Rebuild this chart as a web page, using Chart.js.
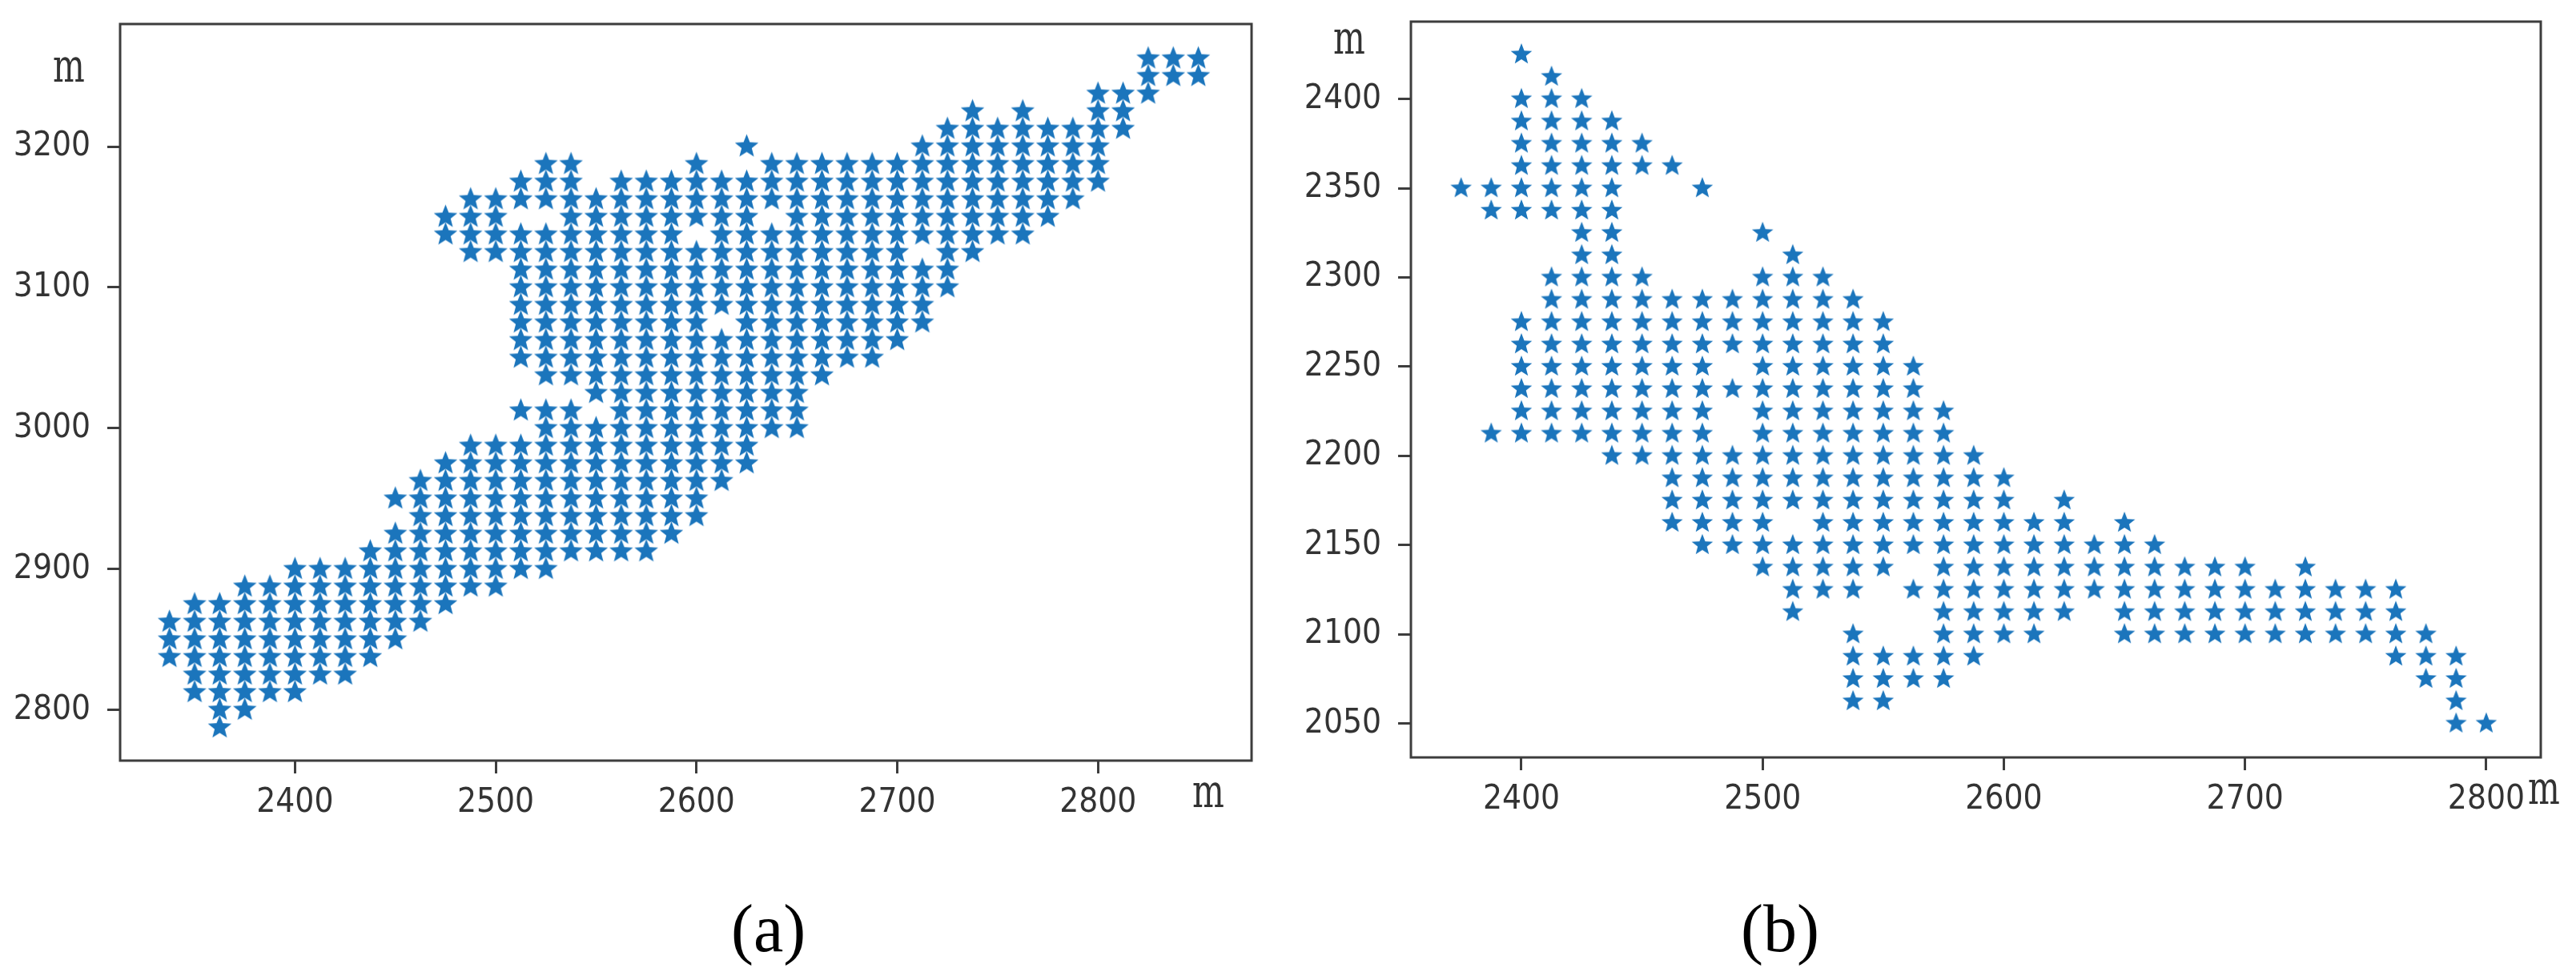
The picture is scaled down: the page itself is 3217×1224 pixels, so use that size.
<!DOCTYPE html>
<html>
<head>
<meta charset="utf-8">
<title>Scatter maps</title>
<script src="https://cdn.jsdelivr.net/npm/chart.js@4/dist/chart.umd.min.js"></script>
<style>
    html, body { margin: 0; padding: 0; background: #fff; }
    body { position: relative; width: 3217px; height: 1224px; overflow: hidden; }
    canvas { position: absolute; top: 0; }
    #chartA { left: 0; }
    #chartB { left: 1600px; }
    .unit { position: absolute; font: 42px "DejaVu Serif"; line-height: 1; color: #333; transform: scaleY(1.4); transform-origin: top left; }
    .caption { position: absolute; font: 84px "Liberation Serif"; line-height: 1; color: #000; }
</style>
</head>
<body>
<canvas id="chartA" width="1600" height="1110"></canvas>
<canvas id="chartB" width="1617" height="1110"></canvas>
<div class="unit" style="left:66px;top:53px">m</div>
<div class="unit" style="left:1489px;top:959px">m</div>
<div class="unit" style="left:1665px;top:18px">m</div>
<div class="unit" style="left:3157px;top:955px">m</div>
<div class="caption" style="left:913px;top:1118px">(a)</div>
<div class="caption" style="left:2174px;top:1118px">(b)</div>
<script>
// panel (a)
var aColumns = [2337.5, 2350, 2362.5, 2375, 2387.5, 2400, 2412.5, 2425, 2437.5, 2450, 2462.5, 2475, 2487.5, 2500, 2512.5, 2525, 2537.5, 2550, 2562.5, 2575, 2587.5, 2600, 2612.5, 2625, 2637.5, 2650, 2662.5, 2675, 2687.5, 2700, 2712.5, 2725, 2737.5, 2750, 2762.5, 2775, 2787.5, 2800, 2812.5, 2825, 2837.5, 2850];
var aRows = [
    [2862.5, 2850, 2837.5],
    [2875, 2862.5, 2850, 2837.5, 2825, 2812.5],
    [2875, 2862.5, 2850, 2837.5, 2825, 2812.5, 2800, 2787.5],
    [2887.5, 2875, 2862.5, 2850, 2837.5, 2825, 2812.5, 2800],
    [2887.5, 2875, 2862.5, 2850, 2837.5, 2825, 2812.5],
    [2900, 2887.5, 2875, 2862.5, 2850, 2837.5, 2825, 2812.5],
    [2900, 2887.5, 2875, 2862.5, 2850, 2837.5, 2825],
    [2900, 2887.5, 2875, 2862.5, 2850, 2837.5, 2825],
    [2912.5, 2900, 2887.5, 2875, 2862.5, 2850, 2837.5],
    [2950, 2925, 2912.5, 2900, 2887.5, 2875, 2862.5, 2850],
    [2962.5, 2950, 2937.5, 2925, 2912.5, 2900, 2887.5, 2875, 2862.5],
    [3150, 3137.5, 2975, 2962.5, 2950, 2937.5, 2925, 2912.5, 2900, 2887.5, 2875],
    [3162.5, 3150, 3137.5, 3125, 2987.5, 2975, 2962.5, 2950, 2937.5, 2925, 2912.5, 2900, 2887.5],
    [3162.5, 3150, 3137.5, 3125, 2987.5, 2975, 2962.5, 2950, 2937.5, 2925, 2912.5, 2900, 2887.5],
    [3175, 3162.5, 3137.5, 3125, 3112.5, 3100, 3087.5, 3075, 3062.5, 3050, 3012.5, 2987.5, 2975, 2962.5, 2950, 2937.5, 2925, 2912.5, 2900],
    [3187.5, 3175, 3162.5, 3137.5, 3125, 3112.5, 3100, 3087.5, 3075, 3062.5, 3050, 3037.5, 3012.5, 3000, 2987.5, 2975, 2962.5, 2950, 2937.5, 2925, 2912.5, 2900],
    [3187.5, 3175, 3162.5, 3150, 3137.5, 3125, 3112.5, 3100, 3087.5, 3075, 3062.5, 3050, 3037.5, 3012.5, 3000, 2987.5, 2975, 2962.5, 2950, 2937.5, 2925, 2912.5],
    [3162.5, 3150, 3137.5, 3125, 3112.5, 3100, 3087.5, 3075, 3062.5, 3050, 3037.5, 3025, 3000, 2987.5, 2975, 2962.5, 2950, 2937.5, 2925, 2912.5],
    [3175, 3162.5, 3150, 3137.5, 3125, 3112.5, 3100, 3087.5, 3075, 3062.5, 3050, 3037.5, 3025, 3012.5, 3000, 2987.5, 2975, 2962.5, 2950, 2937.5, 2925, 2912.5],
    [3175, 3162.5, 3150, 3137.5, 3125, 3112.5, 3100, 3087.5, 3075, 3062.5, 3050, 3037.5, 3025, 3012.5, 3000, 2987.5, 2975, 2962.5, 2950, 2937.5, 2925, 2912.5],
    [3175, 3162.5, 3150, 3137.5, 3125, 3112.5, 3100, 3087.5, 3075, 3062.5, 3050, 3037.5, 3025, 3012.5, 3000, 2987.5, 2975, 2962.5, 2950, 2937.5, 2925],
    [3187.5, 3175, 3162.5, 3150, 3125, 3112.5, 3100, 3087.5, 3075, 3062.5, 3050, 3037.5, 3025, 3012.5, 3000, 2987.5, 2975, 2962.5, 2950, 2937.5],
    [3175, 3162.5, 3150, 3137.5, 3125, 3112.5, 3100, 3087.5, 3062.5, 3050, 3037.5, 3025, 3012.5, 3000, 2987.5, 2975, 2962.5],
    [3200, 3175, 3162.5, 3150, 3137.5, 3125, 3112.5, 3100, 3087.5, 3075, 3062.5, 3050, 3037.5, 3025, 3012.5, 3000, 2987.5, 2975],
    [3187.5, 3175, 3162.5, 3137.5, 3125, 3112.5, 3100, 3087.5, 3075, 3062.5, 3050, 3037.5, 3025, 3012.5, 3000],
    [3187.5, 3175, 3162.5, 3150, 3137.5, 3125, 3112.5, 3100, 3087.5, 3075, 3062.5, 3050, 3037.5, 3025, 3012.5, 3000],
    [3187.5, 3175, 3162.5, 3150, 3137.5, 3125, 3112.5, 3100, 3087.5, 3075, 3062.5, 3050, 3037.5],
    [3187.5, 3175, 3162.5, 3150, 3137.5, 3125, 3112.5, 3100, 3087.5, 3075, 3062.5, 3050],
    [3187.5, 3175, 3162.5, 3150, 3137.5, 3125, 3112.5, 3100, 3087.5, 3075, 3062.5, 3050],
    [3187.5, 3175, 3162.5, 3150, 3137.5, 3125, 3112.5, 3100, 3087.5, 3075, 3062.5],
    [3200, 3187.5, 3175, 3162.5, 3150, 3137.5, 3112.5, 3100, 3087.5, 3075],
    [3212.5, 3200, 3187.5, 3175, 3162.5, 3150, 3137.5, 3125, 3112.5, 3100],
    [3225, 3212.5, 3200, 3187.5, 3175, 3162.5, 3150, 3137.5, 3125],
    [3212.5, 3200, 3187.5, 3175, 3162.5, 3150, 3137.5],
    [3225, 3212.5, 3200, 3187.5, 3175, 3162.5, 3150, 3137.5],
    [3212.5, 3200, 3187.5, 3175, 3162.5, 3150],
    [3212.5, 3200, 3187.5, 3175, 3162.5],
    [3237.5, 3225, 3212.5, 3200, 3187.5, 3175],
    [3237.5, 3225, 3212.5],
    [3262.5, 3250, 3237.5],
    [3262.5, 3250],
    [3262.5, 3250]
];
var aXTicks = [2400, 2500, 2600, 2700, 2800];
var aYTicks = [2800, 2900, 3000, 3100, 3200];

// panel (b)
var bColumns = [2375, 2387.5, 2400, 2412.5, 2425, 2437.5, 2450, 2462.5, 2475, 2487.5, 2500, 2512.5, 2525, 2537.5, 2550, 2562.5, 2575, 2587.5, 2600, 2612.5, 2625, 2637.5, 2650, 2662.5, 2675, 2687.5, 2700, 2712.5, 2725, 2737.5, 2750, 2762.5, 2775, 2787.5, 2800];
var bRows = [
    [2350],
    [2350, 2337.5, 2212.5],
    [2425, 2400, 2387.5, 2375, 2362.5, 2350, 2337.5, 2275, 2262.5, 2250, 2237.5, 2225, 2212.5],
    [2412.5, 2400, 2387.5, 2375, 2362.5, 2350, 2337.5, 2300, 2287.5, 2275, 2262.5, 2250, 2237.5, 2225, 2212.5],
    [2400, 2387.5, 2375, 2362.5, 2350, 2337.5, 2325, 2312.5, 2300, 2287.5, 2275, 2262.5, 2250, 2237.5, 2225, 2212.5],
    [2387.5, 2375, 2362.5, 2350, 2337.5, 2325, 2312.5, 2300, 2287.5, 2275, 2262.5, 2250, 2237.5, 2225, 2212.5, 2200],
    [2375, 2362.5, 2300, 2287.5, 2275, 2262.5, 2250, 2237.5, 2225, 2212.5, 2200],
    [2362.5, 2287.5, 2275, 2262.5, 2250, 2237.5, 2225, 2212.5, 2200, 2187.5, 2175, 2162.5],
    [2350, 2287.5, 2275, 2262.5, 2250, 2237.5, 2225, 2212.5, 2200, 2187.5, 2175, 2162.5, 2150],
    [2287.5, 2275, 2262.5, 2237.5, 2200, 2187.5, 2175, 2162.5, 2150],
    [2325, 2300, 2287.5, 2275, 2262.5, 2250, 2237.5, 2225, 2212.5, 2200, 2187.5, 2175, 2162.5, 2150, 2137.5],
    [2312.5, 2300, 2287.5, 2275, 2262.5, 2250, 2237.5, 2225, 2212.5, 2200, 2187.5, 2175, 2150, 2137.5, 2125, 2112.5],
    [2300, 2287.5, 2275, 2262.5, 2250, 2237.5, 2225, 2212.5, 2200, 2187.5, 2175, 2162.5, 2150, 2137.5, 2125],
    [2287.5, 2275, 2262.5, 2250, 2237.5, 2225, 2212.5, 2200, 2187.5, 2175, 2162.5, 2150, 2137.5, 2125, 2100, 2087.5, 2075, 2062.5],
    [2275, 2262.5, 2250, 2237.5, 2225, 2212.5, 2200, 2187.5, 2175, 2162.5, 2150, 2137.5, 2087.5, 2075, 2062.5],
    [2250, 2237.5, 2225, 2212.5, 2200, 2187.5, 2175, 2162.5, 2150, 2125, 2087.5, 2075],
    [2225, 2212.5, 2200, 2187.5, 2175, 2162.5, 2150, 2137.5, 2125, 2112.5, 2100, 2087.5, 2075],
    [2200, 2187.5, 2175, 2162.5, 2150, 2137.5, 2125, 2112.5, 2100, 2087.5],
    [2187.5, 2175, 2162.5, 2150, 2137.5, 2125, 2112.5, 2100],
    [2162.5, 2150, 2137.5, 2125, 2112.5, 2100],
    [2175, 2162.5, 2150, 2137.5, 2125, 2112.5],
    [2150, 2137.5, 2125],
    [2162.5, 2150, 2137.5, 2125, 2112.5, 2100],
    [2150, 2137.5, 2125, 2112.5, 2100],
    [2137.5, 2125, 2112.5, 2100],
    [2137.5, 2125, 2112.5, 2100],
    [2137.5, 2125, 2112.5, 2100],
    [2125, 2112.5, 2100],
    [2137.5, 2125, 2112.5, 2100],
    [2125, 2112.5, 2100],
    [2125, 2112.5, 2100],
    [2125, 2112.5, 2100, 2087.5],
    [2100, 2087.5, 2075],
    [2087.5, 2075, 2062.5, 2050],
    [2050]
];
var bXTicks = [2400, 2500, 2600, 2700, 2800];
var bYTicks = [2050, 2100, 2150, 2200, 2250, 2300, 2350, 2400];

var _markerColor = '#1b75bc';
var _lineColor = '#3d3d3d';
var _textColor = '#333333';

// filled five point star, chart.js has only the stroked one
function buildStar(outerRadius) {
    var size = Math.ceil(outerRadius * 2) + 2;
    var star = document.createElement('canvas');
    star.width = size;
    star.height = size;
    var ctx = star.getContext('2d');
    ctx.fillStyle = _markerColor;
    ctx.beginPath();
    for (var i = 0; i < 10; i++) {
        var r = i % 2 === 0 ? outerRadius : outerRadius * 0.43;
        var angle = -Math.PI / 2 + i * Math.PI / 5;
        ctx.lineTo(size / 2 + r * Math.cos(angle), size / 2 + r * Math.sin(angle));
    }
    ctx.closePath();
    ctx.fill();
    return star;
}

// the box around the plot, axes only give left and bottom
var framePlugin = {
    id: 'frame',
    afterDraw: function (chart) {
        var area = chart.chartArea;
        var ctx = chart.ctx;
        ctx.save();
        ctx.strokeStyle = _lineColor;
        ctx.lineWidth = 3;
        ctx.strokeRect(area.left, area.top, area.right - area.left, area.bottom - area.top);
        ctx.restore();
    }
};

function buildPoints(columns, rows) {
    var points = [];
    columns.forEach(function (x, i) {
        rows[i].forEach(function (y) {
            points.push({ x: x, y: y });
        });
    });
    return points;
}

function axisOptions(min, max, tickValues, padding, extra) {
    return Object.assign({
        type: 'linear',
        min: min,
        max: max,
        afterBuildTicks: function (scale) {
            scale.ticks = tickValues.map(function (v) { return { value: v }; });
        },
        border: { display: false },
        grid: {
            drawOnChartArea: false,
            drawTicks: true,
            tickLength: 16,
            tickWidth: 3,
            tickColor: _lineColor
        },
        ticks: {
            autoSkip: false,
            maxRotation: 0,
            color: _textColor,
            font: { family: '"DejaVu Sans Condensed", "DejaVu Sans"', size: 42 },
            padding: padding,
            callback: function (value) { return String(value); }
        }
    }, extra);
}

function buildScatter(canvasId, points, star, box, xRange, yRange, xTicks, yTicks) {
    var canvas = document.getElementById(canvasId);
    new Chart(canvas, {
        type: 'scatter',
        data: {
            datasets: [{
                data: points,
                pointStyle: star,
                showLine: false
            }]
        },
        options: {
            responsive: false,
            animation: false,
            layout: { padding: { top: box.top, right: canvas.width - box.right, left: 0, bottom: 0 } },
            plugins: { legend: { display: false }, tooltip: { enabled: false } },
            scales: {
                x: axisOptions(xRange[0], xRange[1], xTicks, 12, {
                    afterFit: function (scale) {
                        scale.height = canvas.height - box.bottom;
                        scale.paddingLeft = 0;
                        scale.paddingRight = 0;
                    }
                }),
                y: axisOptions(yRange[0], yRange[1], yTicks, 21, {
                    afterFit: function (scale) {
                        scale.width = box.left;
                        scale.paddingTop = 0;
                        scale.paddingBottom = 0;
                    }
                })
            }
        },
        plugins: [framePlugin]
    });
}

buildScatter('chartA', buildPoints(aColumns, aRows), buildStar(15.5),
    { left: 150, top: 30, right: 1563, bottom: 950 },
    [2312.9, 2876.5], [2764, 3287], aXTicks, aYTicks);

buildScatter('chartB', buildPoints(bColumns, bRows), buildStar(14),
    { left: 162, top: 27, right: 1573, bottom: 946 },
    [2354.2, 2822.6], [2031, 2443.4], bXTicks, bYTicks);
</script>
</body>
</html>
